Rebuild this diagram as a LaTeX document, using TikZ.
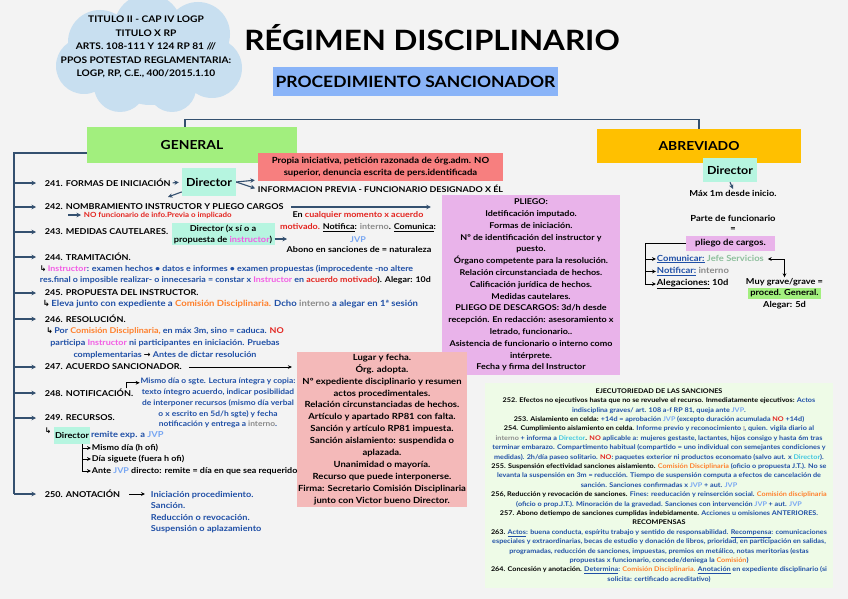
\documentclass[tikz,border=0pt]{standalone}
\usepackage{fontspec}
\setmainfont{Lato}[FakeStretch=1.12]
\newfontfamily\arrowfont{DejaVu Sans}
\usepackage{tikz}
\usetikzlibrary{arrows.meta,calc}

\definecolor{bgcol}{HTML}{F3F3F3}
\definecolor{linecol}{HTML}{34506F}
\definecolor{cloudcol}{HTML}{C8DFF0}
\definecolor{titleblue}{HTML}{8AB4F8}
\definecolor{gengreen}{HTML}{A2EF7E}
\definecolor{abrorange}{HTML}{FFC000}
\definecolor{mintcol}{HTML}{B6F5E0}
\definecolor{salmon}{HTML}{F77F7F}
\definecolor{lilac}{HTML}{E9B3EA}
\definecolor{rosecol}{HTML}{F4B9B9}
\definecolor{palegreen}{HTML}{EEFBE7}
\definecolor{txtblue}{HTML}{1F4FA6}
\definecolor{jvpblue}{HTML}{77A6F2}
\definecolor{instpink}{HTML}{F25CE4}
\definecolor{txtred}{HTML}{E3231E}
\definecolor{comorange}{HTML}{FF7F2A}
\definecolor{txtgray}{HTML}{8A8A8A}
\definecolor{dircyan}{HTML}{3FC7E0}
\definecolor{jefegreen}{HTML}{8EBF9D}

\newcommand\tblue[1]{\textcolor{txtblue}{#1}}
\newcommand\tjvp{\textcolor{jvpblue}{JVP}}
\newcommand\tinst[1]{\textcolor{instpink}{#1}}
\newcommand\tred[1]{\textcolor{txtred}{#1}}
\newcommand\tcom[1]{\textcolor{comorange}{#1}}
\newcommand\tgray[1]{\textcolor{txtgray}{#1}}
\newcommand\tdir[1]{\textcolor{dircyan}{#1}}
\newcommand\hookarr{{\arrowfont ↳}\,}
\newcommand\toarr{{\arrowfont →}}
\newcommand\smallicon{{\color{txtgray!45}\rule{1.6pt}{5pt}}}

\tikzset{
  ln/.style={draw=linecol, line width=1.1pt},
  arr/.style={ln, -{Stealth[length=4.5pt,width=4.5pt]}},
  blkln/.style={draw=black, line width=0.9pt},
  blk/.style={blkln, -{Stealth[length=4pt,width=3.8pt]}},
  dblk/.style={blkln, {Stealth[length=4pt,width=3.8pt]}-{Stealth[length=4pt,width=3.8pt]}},
  item/.style={anchor=west, inner sep=0.75pt, font=\fontsize{8.1}{10}\selectfont\bfseries},
  sub/.style={inner sep=0.75pt, align=center, font=\fontsize{8}{11.5}\selectfont\bfseries},
  plain/.style={inner sep=0.75pt, align=center, font=\fontsize{8.3}{12}\selectfont\bfseries},
  dirbox/.style={fill=mintcol, inner sep=1pt},
  hbox/.style={inner sep=1pt, align=center, font=\fontsize{12.4}{15}\selectfont\bfseries},
}

\begin{document}
\begin{tikzpicture}[x=1pt,y=1pt,yscale=-1,xscale=1]
%Background
\fill[bgcol] (0,0) rectangle (848,599);
\useasboundingbox (0,0) rectangle (848,599);

%Shape: Cloud
\fill[cloudcol] (100,42) circle (32) (148,28) circle (34) (198,34) circle (32) (212,68) circle (30)
  (172,88) circle (24) (120,86) circle (26) (84,66) circle (28) (150,60) circle (45);
% Text Node
\draw (146,47) node (cloudtxt) [align=center, inner sep=0.75pt, font=\fontsize{9.1}{13.5}\selectfont\bfseries]
  {TITULO II - CAP IV LOGP\\TITULO X RP\\ARTS. 108-111 Y 124 RP 81 ///\\PPOS POTESTAD REGLAMENTARIA:\\LOGP, RP, C.E., 400/2015.1.10};

% Text Node
\draw (432,38) node (title) [inner sep=0.75pt, font=\fontsize{28}{30}\selectfont\bfseries] {RÉGIMEN DISCIPLINARIO};
\draw (415.5,81.5) node (proc) [fill=titleblue, minimum width=285pt, minimum height=29pt, inner sep=1pt, font=\fontsize{15.6}{18}\selectfont\bfseries] {PROCEDIMIENTO SANCIONADOR};

%Shape: Rectangle
\draw (192,145) node (general) [fill=gengreen, minimum width=210pt, minimum height=36pt, hbox] {GENERAL};
\draw (699,146) node (abrev) [fill=abrorange, minimum width=204pt, minimum height=34pt, hbox] {ABREVIADO};

%Straight Lines
\draw[ln] ($(general.north)+(-7,0)$) -- ++(0,-7) -| (abrev.north);

% Items
\draw (44,183) node (i241) [item] {241. FORMAS DE INICIACIÓN};
\draw (44,207) node (i242) [item] {242. NOMBRAMIENTO INSTRUCTOR Y PLIEGO CARGOS};
\draw (44,232) node (i243) [item] {243. MEDIDAS CAUTELARES.};
\draw (44,257) node (i244) [item] {244. TRAMITACIÓN.};
\draw (44,293) node (i245) [item] {245. PROPUESTA DEL INSTRUCTOR.};
\draw (44,319) node (i246) [item] {246. RESOLUCIÓN.};
\draw (44,367) node (i247) [item] {247. ACUERDO SANCIONADOR.};
\draw (44,393) node (i248) [item] {248. NOTIFICACIÓN.};
\draw (44,418) node (i249) [item] {249. RECURSOS.};
\draw (44,494) node (i250) [item] {250. ANOTACIÓN};

%Trunk
\coordinate (gt) at ($(general.west)+(0,8)$);
\coordinate (trunkend) at (14,494);
\draw[ln] (gt) -| (trunkend);
\foreach \n in {241,...,250} \draw[arr, shorten >=8pt] (i\n.west -| trunkend) -- (i\n.west);

% 241
\draw (209,182) node (dir241) [dirbox, minimum width=54pt, minimum height=28pt, font=\fontsize{11.1}{13}\selectfont\bfseries] {Director};
\draw (380.5,167) node (propia) [fill=salmon, minimum width=245pt, minimum height=28pt, plain, font=\fontsize{8.5}{12.5}\selectfont\bfseries]
  {Propia iniciativa, petición razonada de órg.adm. NO\\superior, denuncia escrita de pers.identificada};
\draw (257,189) node (info) [anchor=west, inner sep=0.75pt, font=\fontsize{8}{10}\selectfont\bfseries] {INFORMACION PREVIA - FUNCIONARIO DESIGNADO X ÉL};
\draw[arr, shorten <=1pt, shorten >=3pt] (i241.east) -- (dir241.west);
\draw[arr, shorten >=3pt] (dir241.east) -- (propia.186);
\draw[arr, shorten >=2pt] (dir241.east) -- (info.west);
\coordinate (d242) at (168,197);
\draw[arr] (dir241.200) -- (d242);

% 242
\draw (531,285) node (pliegoG) [fill=lilac, minimum width=178pt, minimum height=180pt, plain, inner sep=1pt, font=\fontsize{8}{11.8}\selectfont\bfseries]
  {PLIEGO:\\Idetificación imputado.\\Formas de iniciación.\\Nº de identificación del instructor y\\puesto.\\Órgano competente para la resolución.\\Relación circunstanciada de hechos.\\Calificación jurídica de hechos.\\Medidas cautelares.\\PLIEGO DE DESCARGOS: 3d/h desde\\recepción. En redacción: asesoramiento x\\letrado, funcionario..\\Asistencia de funcionario o interno como\\intérprete.\\Fecha y firma del Instructor};
\draw[arr, shorten <=7pt, shorten >=11pt] (i242.east) -- (i242.east -| pliegoG.west);
\draw (83,215) node (nf) [anchor=west, inner sep=0.75pt, font=\fontsize{7.1}{8}\selectfont\bfseries] {\tred{NO funcionario de info.Previa o implicado}};
\draw[arr, shorten >=2pt] (nf.west) ++(-15,0) -- (nf.west);

% 243
\draw (223,234) node (dir243) [dirbox, minimum width=103pt, minimum height=22pt, align=center, font=\fontsize{8.2}{11}\selectfont\bfseries]
  {Director (x sí o a\\propuesta de \tinst{instructor})};
\draw (358,227) node (cual) [plain, font=\fontsize{8}{12.3}\selectfont\bfseries]
  {En \tred{cualquier momento x acuerdo}\\\tred{motivado.} \underline{Notifica}: \tgray{interno}. \underline{Comunica}:\\\tjvp};
\coordinate (c243) at (287,239);
\draw[arr] (dir243.east |- c243) -- (c243);
\draw (359,250) node (abono) [plain, font=\fontsize{8.1}{12}\selectfont\bfseries] {Abono en sanciones de = naturaleza};

% 244 - 246
\draw (39,274.5) node (s244) [sub, anchor=west, align=left, font=\fontsize{7.9}{11.3}\selectfont\bfseries]
  {\hookarr\tinst{Instructor}\tblue{: examen hechos • datos e informes • examen propuestas (improcedente -no altere}\\
   \tblue{res.final o imposible realizar- o innecesaria = constar x} \tinst{Instructor} \tblue{en} \tred{acuerdo motivado}). Alegar: 10d};
\draw (42,304) node (s245) [sub, anchor=west, font=\fontsize{8.5}{11.5}\selectfont\bfseries]
  {\hookarr\tblue{Eleva junto con expediente a} \tcom{Comisión Disciplinaria.} \tblue{Dcho} \tgray{interno} \tblue{a alegar en 1ª sesión}};
\draw (165,343) node (s246) [sub, font=\fontsize{8}{11.9}\selectfont\bfseries]
  {\hookarr\tblue{Por} \tcom{Comisión Disciplinaria,} \tblue{en máx 3m, sino = caduca.} \tred{NO}\\
   \tblue{participa} \tinst{Instructor} \tblue{ni participantes en iniciación. Pruebas}\\
   \tblue{complementarias} \toarr{} \tblue{Antes de dictar resolución}};

% 247
\draw (382,429.5) node (rose) [fill=rosecol, minimum width=168pt, minimum height=155pt, plain, inner sep=1pt, font=\fontsize{8.45}{11.95}\selectfont\bfseries]
  {Lugar y fecha.\\Órg. adopta.\\Nº expediente disciplinario y resumen\\actos procedimentales.\\Relación circunstanciadas de hechos.\\Artículo y apartado RP81 con falta.\\Sanción y artículo RP81 impuesta.\\Sanción aislamiento: suspendida o\\aplazada.\\Unanimidad o mayoría.\\Recurso que puede interponerse.\\Firma: Secretario Comisión Disciplinaria\\junto con Victor bueno Director.};
\draw[blk, shorten <=6pt, shorten >=5pt] (i247.east) -- (i247.east -| rose.west);

% 248
\draw (218,403) node (not) [sub, font=\fontsize{7.5}{10.9}\selectfont\bfseries]
  {\tblue{Mismo día o sgte. Lectura íntegra y copia:}\\\tblue{texto íntegro acuerdo, indicar posibilidad}\\\tblue{de interponer recursos (mismo día verbal}\\\tblue{o x escrito en 5d/h sgte) y fecha}\\\tblue{notificación y entrega a} \tgray{interno}\tblue{.}};
\draw[blk] ($(i248.north east)+(-8,0)$) |- ($(not.north west)+(0,6)$);

% 249
\draw (44,431) node (h249) [anchor=west, inner sep=0.75pt, font=\fontsize{7.8}{9}\selectfont\bfseries] {\hookarr};
\draw (72,435.5) node (d249) [dirbox, minimum width=36pt, minimum height=17pt, font=\fontsize{8.2}{10}\selectfont\bfseries] {Director};
\draw (d249.east) node (re249) [anchor=west, inner sep=0.75pt, font=\fontsize{8.3}{9}\selectfont\bfseries] {\tblue{remite exp. a} \tjvp};
\draw (91,448) node (r1) [item, font=\fontsize{8}{9}\selectfont\bfseries] {Mismo día (h ofi)};
\draw (91,459) node (r2) [item, font=\fontsize{8}{9}\selectfont\bfseries] {Día siguete (fuera h ofi)};
\draw (91,471) node (r3) [item, font=\fontsize{8}{9}\selectfont\bfseries] {Ante \tjvp{} directo: remite = día en que sea requerido};
\coordinate (b249) at ($(d249.south east)+(-8,0)$);
\draw[blk] (b249) |- (r1.west);
\draw[blk] (b249) |- (r2.west);
\draw[blk] (b249) |- (r3.west);

% 250
\draw (150,512) node (an) [sub, anchor=west, align=left, font=\fontsize{8.2}{11.3}\selectfont\bfseries]
  {\tblue{Iniciación procedimiento.}\\\tblue{Sanción.}\\\tblue{Reducción o revocación.}\\\tblue{Suspensión o aplazamiento}};
\draw[blk, shorten <=8pt, shorten >=5pt] (i250.east) -- (i250.east -| an.west);

% Abreviado
\draw (730,170) node (dirA) [dirbox, minimum width=54pt, minimum height=24pt, font=\fontsize{11.1}{13}\selectfont\bfseries] {Director};
\draw (733,193) node (maxA) [plain, font=\fontsize{8.3}{12}\selectfont\bfseries] {Máx 1m desde inicio.};
\draw[arr] (dirA.south) -- (maxA.north);
\draw (733,218) node (parteA) [plain, font=\fontsize{8.4}{12}\selectfont\bfseries] {Parte de funcionario};
\draw (733,230) node (eqA) [plain] {=};
\draw (730.5,243.5) node (pliegoA) [fill=lilac, minimum width=89pt, minimum height=15pt, plain, inner sep=1pt, font=\fontsize{8.5}{10}\selectfont\bfseries] {pliego de cargos.};
\draw (656,259) node (com) [item, font=\fontsize{8.4}{10}\selectfont\bfseries] {\tblue{\underline{Comunicar:}} \textcolor{jefegreen}{Jefe Servicios}};
\draw (656,271.5) node (notA) [item, font=\fontsize{8.4}{10}\selectfont\bfseries] {\tblue{\underline{Notificar:}} \tgray{interno}};
\draw (656,284) node (aleg) [item, font=\fontsize{8.4}{10}\selectfont\bfseries] {\underline{Alegaciones:} 10d};
\coordinate (brA) at (645,284);
\draw[blkln] (pliegoA.west) -| (brA);
\draw[blk] (com.west -| brA) -- (com.west);
\draw[blk] (notA.west -| brA) -- (notA.west);
\draw[blk] (aleg.west -| brA) -- (aleg.west);
\draw (784.5,282) node (muy) [plain, font=\fontsize{8.2}{12}\selectfont\bfseries] {Muy grave/grave =};
\draw (784.5,293.5) node (genA) [fill=gengreen, minimum width=73pt, minimum height=11pt, plain, inner sep=1pt] {proced. General.};
\draw (784.5,305) node (alegA) [plain] {Alegar: 5d};
\draw[dblk, shorten <=3pt] (com.east) -| (muy.north);

% Ejecutoriedad
\draw (659,485.5) node (ejec) [fill=palegreen, minimum width=348pt, minimum height=205pt, align=center, inner sep=1pt, font=\fontsize{6.45}{9.4}\selectfont\bfseries]
  {EJECUTORIEDAD DE LAS SANCIONES\\
   252. Efectos no ejecutivos hasta que no se revuelve el recurso. Inmediatamente ejecutivos: \tblue{Actos}\\
   \tblue{indisciplina graves/ art. 108 a-f RP 81, queja ante} \tjvp\tblue{.}\\
   253. Aislamiento en celda: \tblue{+14d = aprobación} \tjvp{} \tblue{(excepto duración acumulada} \tred{NO} \tblue{+14d)}\\
   254. Cumplimiento aislamiento en celda. \tblue{Informe previo y reconocimiento} \smallicon\tblue{, quien. vigila diario al}\\
   \tgray{interno} \tblue{+ informa a} \tdir{Director}. \tred{NO} \tblue{aplicable a: mujeres gestaste, lactantes, hijos consigo y hasta 6m tras}\\
   \tblue{terminar embarazo. Compartimento habitual (compartido = uno individual con semejantes condiciones y}\\
   \tblue{medidas). 2h/día paseo solitario.} \tred{NO}\tblue{: paquetes exterior ni productos economato (salvo aut. x} \tdir{Director}\tblue{).}\\
   255. Suspensión efectividad sanciones aislamiento. \tcom{Comisión Disciplinaria} \tblue{(oficio o propuesta J.T.). No se}\\
   \tblue{levanta la suspensión en 3m = reducción. Tiempo de suspensión computa a efectos de cancelación de}\\
   \tblue{sanción. Sanciones confirmadas x} \tjvp{} \tblue{+ aut.} \tjvp\\
   256, Reducción y revocación de sanciones. \tblue{Fines: reeducación y reinserción social.} \tcom{Comisión disciplinaria}\\
   \tblue{(oficio o prop.J.T.). Minoración de la gravedad. Sanciones con intervención} \tjvp{} \tblue{+ aut.} \tjvp\\
   257. Abono detiempo de sanciones cumplidas indebidamente. \tblue{Acciones u omisiones ANTERIORES.}\\
   RECOMPENSAS\\
   263. \tblue{\underline{Actos}: buena conducta, espíritu trabajo y sentido de responsabilidad. \underline{Recompensa}: comunicaciones}\\
   \tblue{especiales y extraordinarias, becas de estudio y donación de libros, prioridad, en participación en salidas,}\\
   \tblue{programadas, reducción de sanciones, impuestas, premios en metálico, notas meritorias (estas}\\
   \tblue{propuestas x funcionario, concede/deniega la} \tcom{Comisión}\tblue{)}\\
   264. Concesión y anotación. \tblue{\underline{Determina}:} \tcom{Comisión Disciplinaria.} \tblue{\underline{Anotación} en expediente disciplinario (si}\\
   \tblue{solicita: certificado acreditativo)}};
\end{tikzpicture}
\end{document}
